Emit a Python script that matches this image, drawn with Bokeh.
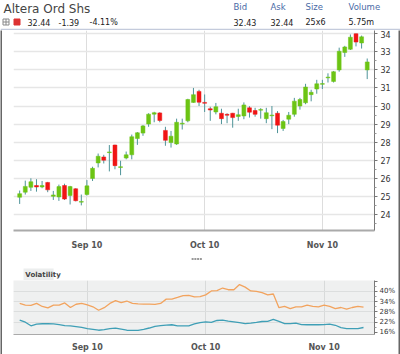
from bokeh.plotting import figure
from bokeh.layouts import column, row
from bokeh.models import Range1d, FixedTicker, ColumnDataSource
from bokeh.core.properties import value
from bokeh.embed import file_html
from bokeh.resources import INLINE

# ---------------- data ----------------
title = "Altera Ord Shs"
last_price = "32.44"
change = "-1.39"
change_pct = "-4.11%"
quote_labels = ["Bid", "Ask", "Size", "Volume"]
quote_values = ["32.43", "32.44", "25x6", "5.75m"]

opens = [24.95, 25.23, 25.50, 25.60, 25.52, 25.77, 25.00, 24.97, 25.60, 25.05,
         25.42, 24.68, 25.10, 25.99, 26.85, 27.18, 27.42, 27.84, 26.60, 27.12,
         27.30, 28.20, 28.50, 29.00, 29.55, 29.62, 28.65, 27.98, 27.90, 29.00,
         29.18, 30.20, 30.81, 30.20, 29.85, 29.67, 29.60, 29.54, 29.60, 29.42,
         29.45, 29.90, 29.75, 29.78, 29.30, 29.47, 29.60, 28.76, 29.27, 29.54,
         30.00, 30.18, 30.63, 30.94, 31.20, 31.58, 31.36, 32.00, 32.96, 33.14,
         34.00, 33.49, 32.00]
highs = [25.32, 25.87, 26.00, 25.95, 25.85, 25.80, 25.30, 25.65, 25.70, 25.58,
         25.45, 25.10, 25.90, 26.64, 27.37, 27.30, 27.84, 27.86, 26.97, 27.48,
         28.42, 28.56, 28.95, 29.60, 29.68, 29.66, 28.85, 28.62, 29.30, 29.30,
         30.40, 31.00, 30.90, 30.64, 29.96, 30.17, 29.85, 29.60, 29.62, 29.85,
         30.20, 29.99, 29.90, 29.88, 29.90, 30.00, 29.72, 29.23, 29.67, 30.45,
         30.45, 31.23, 30.90, 31.45, 31.45, 31.81, 31.94, 33.23, 33.33, 33.96,
         34.02, 33.90, 32.63]
lows = [24.58, 25.10, 25.30, 25.26, 25.45, 25.23, 24.80, 24.75, 24.80, 24.55,
        24.72, 24.50, 25.05, 25.85, 26.60, 26.82, 26.38, 26.50, 26.17, 27.05,
        27.05, 27.85, 28.35, 28.85, 29.10, 29.10, 27.80, 27.70, 27.85, 28.70,
        29.10, 30.18, 30.00, 29.67, 29.18, 29.54, 29.00, 29.05, 28.80, 29.18,
        29.27, 29.36, 29.41, 29.30, 29.05, 28.72, 28.50, 28.62, 29.00, 29.41,
        29.80, 30.10, 30.26, 30.68, 30.94, 31.30, 31.30, 31.90, 32.72, 33.10,
        33.30, 33.18, 31.49]
closes = [25.15, 25.55, 25.81, 25.52, 25.60, 25.36, 25.08, 25.54, 24.85, 25.54,
          24.76, 24.72, 25.58, 26.55, 27.22, 27.00, 27.46, 26.70, 26.64, 27.30,
          28.30, 28.52, 28.90, 29.55, 29.63, 29.20, 28.10, 28.33, 29.10, 29.05,
          30.36, 30.63, 30.21, 30.15, 29.78, 29.96, 29.30, 29.49, 29.36, 29.52,
          30.06, 29.66, 29.54, 29.81, 29.63, 29.50, 28.94, 29.14, 29.49, 30.27,
          30.36, 31.05, 30.76, 31.23, 31.24, 31.60, 31.90, 33.03, 33.27, 33.81,
          33.54, 33.83, 32.44]

vol_orange = [33.0, 32.0, 31.8, 33.0, 31.2, 30.4, 32.0, 32.0, 33.3, 30.6,
              32.5, 33.0, 32.2, 31.0, 29.0, 30.5, 33.0, 34.6, 33.5, 34.4,
              33.0, 32.7, 32.6, 32.6, 32.4, 33.0, 35.5, 35.5, 36.5, 37.6,
              37.7, 36.8, 37.0, 38.0, 40.3, 40.5, 42.0, 41.0, 41.0, 44.0,
              42.5, 40.3, 40.0, 39.3, 38.0, 38.5, 30.5, 31.3, 30.0, 31.0,
              31.0, 32.0, 31.3, 31.0, 32.0, 31.2, 30.0, 30.6, 29.6, 30.6,
              31.3, 30.8]
vol_teal = [23.2, 22.0, 19.9, 20.9, 21.1, 21.2, 21.0, 20.6, 20.0, 19.8,
            19.4, 19.0, 18.3, 17.8, 17.3, 17.6, 18.2, 18.5, 17.9, 17.3,
            17.2, 17.2, 17.8, 18.6, 19.6, 20.0, 20.3, 20.5, 19.9, 19.9,
            19.9, 21.0, 21.8, 22.2, 21.9, 23.0, 23.2, 22.6, 22.2, 21.7,
            21.2, 21.5, 21.9, 22.4, 22.5, 23.6, 22.5, 21.2, 21.2, 21.5,
            20.6, 20.5, 20.5, 20.5, 20.6, 20.9, 20.2, 18.8, 18.2, 18.2,
            18.2, 18.9]

date_tick_labels = ["Sep 10", "Oct 10", "Nov 10"]
date_tick_index = [12, 33, 54]
price_ticks = [24, 25, 26, 27, 28, 29, 30, 31, 32, 33, 34]
vol_ticks = [16, 22, 28, 34, 40, 46]

# ---------------- styles ----------------
FONT = "DejaVu Sans"
GREEN = "#6cc414"
RED = "#f01414"
WICK = "#4f9499"
ORANGE = "#f2a35e"
TEAL = "#3f9fb6"
BORDER = "#666666"
W = 400
BW = 2          # outer border width
CW = W - 2 * BW  # content width


def bare(fig):
    fig.axis.visible = False
    fig.grid.visible = False
    fig.outline_line_color = None
    return fig


# ---------------- header ----------------
h = bare(figure(width=W, height=30, x_range=Range1d(0, W), y_range=Range1d(30, 0),
                output_backend="svg", toolbar_location=None,
                min_border=0, min_border_left=0, min_border_right=0,
                min_border_top=0, min_border_bottom=0))
h.text(x=[3], y=[8.5], text=[title], text_font=value(FONT), text_font_size="12px",
       text_color="#444444", text_baseline="middle")
h.text(x=[233, 270, 305, 348], y=[6.5] * 4, text=quote_labels, text_font=value(FONT),
       text_font_size="8.5px", text_color="#4a6aa6", text_baseline="middle")
h.scatter(x=[5.5], y=[21.5], marker="square_cross", size=6, fill_color=None,
          line_color="#888888", line_width=1)
h.scatter(x=[16.5], y=[21.5], marker="square", size=6, fill_color="#dd3333",
          line_color="#dd3333")
h.text(x=[27, 58, 89], y=[21.5] * 3, text=[last_price, change, change_pct],
       text_font=value(FONT), text_font_size="8px", text_color="#222222",
       text_baseline="middle")
h.text(x=[233, 270, 305, 348], y=[21.5] * 4, text=quote_values, text_font=value(FONT),
       text_font_size="8px", text_color="#222222", text_baseline="middle")
h.segment(x0=[0], y0=[29.2], x1=[W], y1=[29.2], line_color="#c4cbdc", line_width=2)

# ---------------- main candlestick chart ----------------
idx = list(range(len(opens)))
body_top = [max(o, c) for o, c in zip(opens, closes)]
body_bot = [min(o, c) for o, c in zip(opens, closes)]
body_bot = [b if t - b > 0.04 else t - 0.04 for t, b in zip(body_top, body_bot)]
colors = [GREEN if c >= o else RED for o, c in zip(opens, closes)]
src = ColumnDataSource(dict(i=idx, high=highs, low=lows, top=body_top,
                            bottom=body_bot, color=colors))

p = figure(width=CW, height=222, x_range=Range1d(-1.1, 63.3),
           y_range=Range1d(23.11, 34.18), output_backend="svg",
           toolbar_location=None, y_axis_location="right",
           min_border_left=13 - BW, min_border_right=W - BW - 382, min_border_top=0,
           min_border_bottom=19)
p.outline_line_color = None
p.segment(x0="i", y0="low", x1="i", y1="high", line_color=WICK, line_width=1,
          source=src)
p.vbar(x="i", width=0.7, top="top", bottom="bottom", fill_color="color",
       line_color="color", line_width=0.5, source=src)

p.yaxis.ticker = FixedTicker(ticks=price_ticks,
                             minor_ticks=[t + 0.5 for t in price_ticks[:-1]] + [23.5])
p.yaxis.axis_line_color = "#777777"
p.yaxis.major_tick_line_color = "#777777"
p.yaxis.minor_tick_line_color = "#999999"
p.yaxis.major_tick_out = 3
p.yaxis.major_tick_in = 0
p.yaxis.minor_tick_out = 2
p.yaxis.minor_tick_in = 0
p.yaxis.major_label_standoff = 3
p.yaxis.major_label_text_font = FONT
p.yaxis.major_label_text_font_size = "8px"
p.yaxis.major_label_text_color = "#333333"

p.xaxis.ticker = FixedTicker(ticks=date_tick_index)
p.xaxis.major_label_overrides = {t: l for t, l in zip(date_tick_index, date_tick_labels)}
p.xaxis.axis_line_color = "#aaaaaa"
p.xaxis.axis_line_width = 2
p.xaxis.major_tick_line_color = None
p.xaxis.minor_tick_line_color = None
p.xaxis.major_label_standoff = 4
p.xaxis.major_label_text_font = FONT
p.xaxis.major_label_text_font_size = "8px"
p.xaxis.major_label_text_font_style = "bold"
p.xaxis.major_label_text_color = "#555555"

p.ygrid.ticker = FixedTicker(ticks=price_ticks + [23])
p.ygrid.grid_line_color = "#e6e6e6"
p.ygrid.grid_line_width = 1.5
p.xgrid.ticker = FixedTicker(ticks=date_tick_index)
p.xgrid.grid_line_color = "#dddddd"

# ---------------- strip with handle and tab ----------------
s = bare(figure(width=CW, height=28, x_range=Range1d(BW, W - BW), y_range=Range1d(28, 0),
                output_backend="svg", toolbar_location=None,
                min_border=0, min_border_left=0, min_border_right=0,
                min_border_top=0, min_border_bottom=0))
s.scatter(x=[198.5, 201.5, 204.5, 207.5], y=[6.5] * 4, marker="square", size=2,
          fill_color="#999999", line_color=None)
s.quad(left=[13], right=[46], top=[16], bottom=[28], fill_color="#eceeee",
       line_color=None)
s.text(x=[15], y=[22.5], text=["Volatility"], text_font=value(FONT),
       text_font_size="7px", text_font_style="bold", text_color="#444444",
       text_baseline="middle")

# ---------------- volatility panel ----------------
vidx = list(range(len(vol_orange)))
v = figure(width=CW, height=74, x_range=Range1d(-1.1, 62.95),
           y_range=Range1d(14.8, 46.4), output_backend="svg",
           toolbar_location=None, y_axis_location="right",
           background_fill_color="#eff0f0",
           min_border_left=13 - BW, min_border_right=W - BW - 380, min_border_top=0,
           min_border_bottom=11)
v.outline_line_color = None
v.line(vidx, vol_orange, line_color=ORANGE, line_width=1.3)
v.line(vidx, vol_teal, line_color=TEAL, line_width=1.3)

v.yaxis.ticker = FixedTicker(ticks=vol_ticks,
                             minor_ticks=[t + 3 for t in vol_ticks[:-1]])
v.yaxis.major_label_overrides = {t: (f"{t}%" if t < 46 else "") for t in vol_ticks}
v.yaxis.axis_line_color = "#777777"
v.yaxis.major_tick_line_color = "#777777"
v.yaxis.minor_tick_line_color = "#999999"
v.yaxis.major_tick_out = 3
v.yaxis.major_tick_in = 0
v.yaxis.minor_tick_out = 2
v.yaxis.minor_tick_in = 0
v.yaxis.major_label_standoff = 2
v.yaxis.major_label_text_font = FONT
v.yaxis.major_label_text_font_size = "7px"
v.yaxis.major_label_text_color = "#333333"

v.xaxis.ticker = FixedTicker(ticks=date_tick_index)
v.xaxis.major_label_overrides = {t: l for t, l in zip(date_tick_index, date_tick_labels)}
v.xaxis.axis_line_color = "#aaaaaa"
v.xaxis.major_tick_line_color = None
v.xaxis.minor_tick_line_color = None
v.xaxis.major_label_standoff = 2
v.xaxis.major_label_text_font = FONT
v.xaxis.major_label_text_font_size = "8px"
v.xaxis.major_label_text_font_style = "bold"
v.xaxis.major_label_text_color = "#555555"

v.ygrid.ticker = FixedTicker(ticks=[22, 28, 34, 40])
v.ygrid.grid_line_color = "#dcdede"
v.xgrid.ticker = FixedTicker(ticks=date_tick_index)
v.xgrid.grid_line_color = "#d8dada"

# ---------------- outer side borders ----------------
body_h = 222 + 28 + 74


def side_border():
    f = bare(figure(width=BW, height=body_h, x_range=Range1d(0, 1), y_range=Range1d(0, 1),
                    output_backend="svg", toolbar_location=None,
                    min_border=0, min_border_left=0, min_border_right=0,
                    min_border_top=0, min_border_bottom=0,
                    background_fill_color=BORDER, border_fill_color=BORDER))
    return f


layout = column(h, row(side_border(), column(p, s, v, spacing=0), side_border(), spacing=0),
                spacing=0)
open("out.html", "w").write(file_html(layout, INLINE))
